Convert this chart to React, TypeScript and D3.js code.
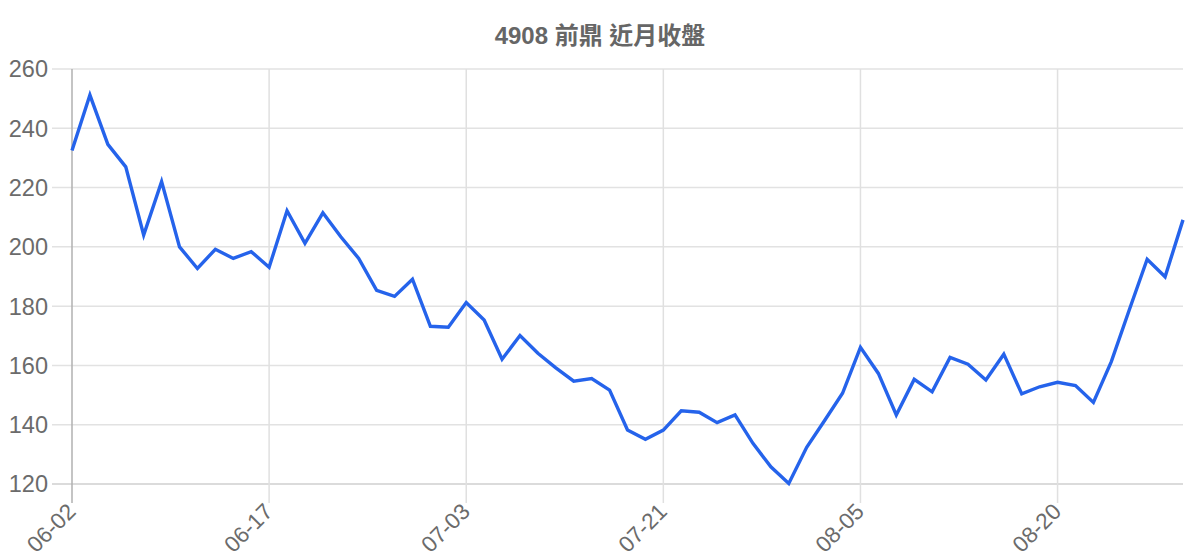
import * as d3 from 'd3'

const title = '4908 前鼎 近月收盤'

// trading days shown on the x axis (labels every 11th point)
const dates = [
  '06-02', '06-03', '06-04', '06-05', '06-06', '06-09', '06-10', '06-11', '06-12', '06-13', '06-16',
  '06-17', '06-18', '06-19', '06-23', '06-24', '06-25', '06-26', '06-27', '06-30', '07-01', '07-02',
  '07-03', '07-04', '07-08', '07-09', '07-10', '07-11', '07-14', '07-15', '07-16', '07-17', '07-18',
  '07-21', '07-22', '07-23', '07-24', '07-25', '07-28', '07-29', '07-30', '07-31', '08-01', '08-04',
  '08-05', '08-06', '08-07', '08-08', '08-11', '08-12', '08-13', '08-14', '08-15', '08-18', '08-19',
  '08-20', '08-21', '08-22', '08-25', '08-26', '08-27', '08-28', '08-29',
]

// closing prices
const closes = [
  232.5, 251.2, 234.6, 227, 204, 222, 200, 192.7, 199.2, 196.1, 198.4,
  193.1, 212.2, 201.2, 211.5, 203.4, 196.1, 185.3, 183.3, 189.1, 173.2, 172.9,
  181.2, 175.3, 162.1, 170.1, 164.1, 159.2, 154.7, 155.6, 151.7, 138.2, 135.1,
  138.2, 144.7, 144.2, 140.7, 143.3, 133.7, 125.8, 120.2, 132.4, 141.4, 150.6,
  166.1, 157.3, 143.3, 155.3, 151.1, 162.7, 160.4, 155.1, 163.8, 150.4, 152.8,
  154.3, 153.2, 147.5, 161.3, 178.7, 195.8, 189.9, 209.1,
]

const yTicks = [120, 140, 160, 180, 200, 220, 240, 260]
const tickEvery = 11

const W = 1200
const H = 560
const left = 72
const right = 1183
const top = 69
const bottom = 484
const font = '"Liberation Sans", Arial, "Noto Sans CJK TC", sans-serif'

export default function App() {
  const x = d3.scalePoint<number>().domain(d3.range(closes.length)).range([left, right])
  const y = d3.scaleLinear([120, 260], [bottom, top])
  const line = d3
    .line<number>()
    .x((_, i) => x(i) as number)
    .y((d) => y(d))
  const xTicks = d3.range(0, closes.length, tickEvery)

  return (
    <svg
      width={W}
      height={H}
      style={{ position: 'absolute', left: 0, top: 0, background: '#fff' }}
      fontFamily={font}
    >
      {yTicks.map((t) => (
        <g key={t}>
          <line
            x1={52}
            x2={right}
            y1={y(t)}
            y2={y(t)}
            stroke={t === 120 ? '#cfcfcf' : '#e2e2e2'}
            strokeWidth={1.5}
          />
          <text x={48} y={y(t)} dy="0.36em" textAnchor="end" fontSize={23.5} fill="#6b6b6b">
            {t}
          </text>
        </g>
      ))}
      {xTicks.map((i) => {
        const px = x(i) as number
        return (
          <g key={i}>
            <line
              x1={px}
              x2={px}
              y1={top}
              y2={503}
              stroke={i === 0 ? '#b0b0b0' : '#e0e0e0'}
              strokeWidth={1.5}
            />
            <text
              transform={`translate(${px + 5},${513}) rotate(-45)`}
              textAnchor="end"
              fontSize={22.5}
              fill="#6b6b6b"
            >
              {dates[i]}
            </text>
          </g>
        )
      })}
      <path
        d={line(closes) || undefined}
        fill="none"
        stroke="#2563eb"
        strokeWidth={3.4}
        strokeLinejoin="miter"
      />
      <text
        x={W / 2}
        y={44}
        textAnchor="middle"
        fontSize={24}
        fontWeight="bold"
        fill="#666"
      >
        {title}
      </text>
    </svg>
  )
}
